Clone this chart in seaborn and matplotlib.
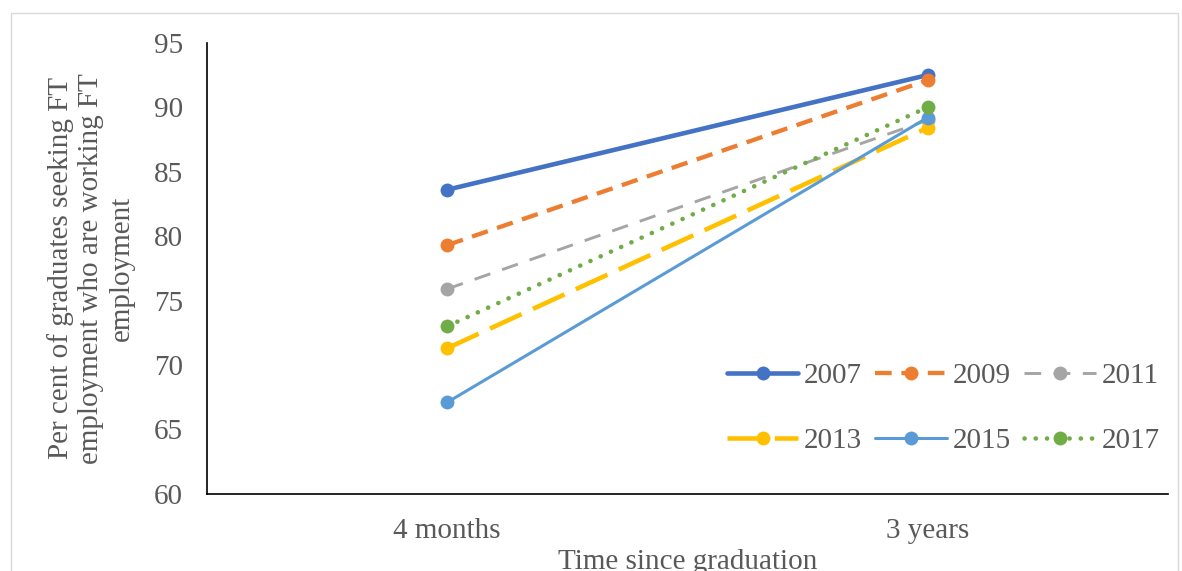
import matplotlib
matplotlib.use("Agg")
import matplotlib.pyplot as plt
from matplotlib.patches import Rectangle
import seaborn as sns
import pandas as pd

categories = ["4 months", "3 years"]
years = ["2007", "2009", "2011", "2013", "2015", "2017"]
v2007 = [83.6, 92.5]
v2009 = [79.3, 92.1]
v2011 = [75.9, 89.0]
v2013 = [71.3, 88.4]
v2015 = [67.1, 89.2]
v2017 = [73.0, 90.0]
yticks = [60, 65, 70, 75, 80, 85, 90, 95]

series = [v2007, v2009, v2011, v2013, v2015, v2017]
colors = ["#4472C4", "#ED7D31", "#A5A5A5", "#FFC000", "#5B9BD5", "#70AD47"]
widths = [3.3, 3.1, 2.1, 3.3, 2.2, 3.3]
styles = ["-", (0, (12, 7)), (0, (12, 9)), (0, (25, 9)), "-", (0, (0.1, 8))]

sns.set_theme(style="white")
plt.rcParams["font.family"] = ["Liberation Serif", "DejaVu Serif"]
plt.rcParams["lines.scale_dashes"] = False

FS = 21

fig = plt.figure(figsize=(11.82, 5.71), dpi=100)
ax = fig.add_axes([0.175, 0.135, 0.813, 0.79])

for yr, vals, c, lw, ls in zip(years, series, colors, widths, styles):
    df = pd.DataFrame({"Time": categories, "value": vals})
    sns.lineplot(data=df, x="Time", y="value", ax=ax, color=c, linewidth=lw,
                 marker="o", markersize=10, markeredgewidth=0, label=yr,
                 sort=False)
    line = ax.lines[-1]
    line.set_linestyle(ls)
    line.set_dash_capstyle("round" if yr == "2017" else "butt")

ax.set_xlim(-0.5, 1.5)
ax.set_ylim(60, 95)
ax.set_yticks(yticks)
ax.tick_params(axis="both", length=0, labelsize=FS, colors="#595959")
ax.tick_params(axis="y", pad=17)
ax.tick_params(axis="x", pad=17)
for s in ["top", "right"]:
    ax.spines[s].set_visible(False)
for s in ["left", "bottom"]:
    ax.spines[s].set_color("black")
    ax.spines[s].set_linewidth(1.2)

ax.set_xlabel("Time since graduation", fontsize=FS, color="#595959", labelpad=4)
ax.set_ylabel("Per cent of graduates seeking FT\nemployment who are working FT\nemployment",
              fontsize=FS, color="#595959", labelpad=14, linespacing=1.22)

handles, labels = ax.get_legend_handles_labels()
order = [0, 3, 1, 4, 2, 5]
leg = ax.legend([handles[i] for i in order], [labels[i] for i in order],
                loc="upper left", bbox_to_anchor=(0.529, 0.316), ncol=3, frameon=False,
                fontsize=FS, handlelength=2.45, handletextpad=0.2, columnspacing=0.45,
                labelspacing=1.3, borderaxespad=0)
for t in leg.get_texts():
    t.set_color("#595959")

fig.patches.append(Rectangle((0.009, -0.05), 0.988, 1.027, transform=fig.transFigure,
                             fill=False, edgecolor="#D9D9D9", linewidth=1))

fig.savefig("out.png", dpi=100)
